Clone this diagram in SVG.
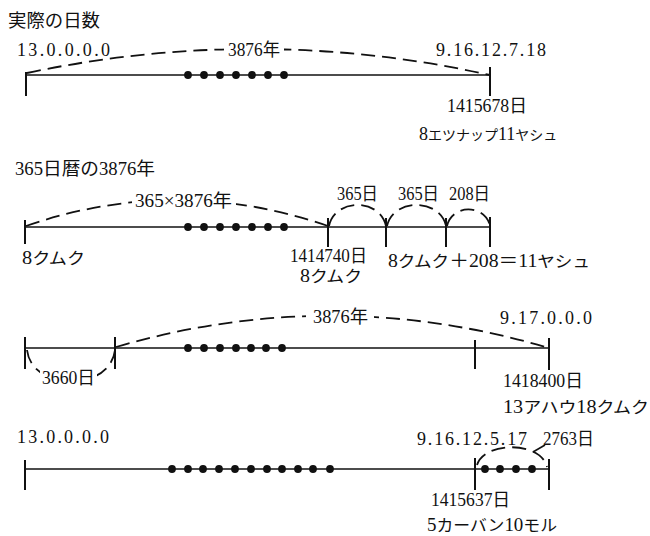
<svg xmlns="http://www.w3.org/2000/svg" width="650" height="536" viewBox="0 0 650 536">
<style>
text{font-family:"Liberation Serif","Noto Sans CJK JP",serif;font-size:18px;fill:#111}
.k{font-size:16px}
.k14{font-size:14px}
.axis{stroke:#111;stroke-width:1.6;fill:none}
.tick{stroke:#111;stroke-width:2;fill:none}
.arc{stroke:#111;stroke-width:1.8;fill:none;stroke-dasharray:14 7}
.dot{fill:#111}
.bg{fill:#fff}
</style>
<rect width="650" height="536" fill="#fff"/>
<g id="connectors">
<path class="axis" d="M26,75 H490"/>
<path class="tick" d="M26,72 V96 M490,67 V96"/>
<path class="arc" d="M27,73 Q258,24 490,75"/>
<path class="axis" d="M25,227 H490"/>
<path class="tick" d="M25,220 V244 M328,218 V247 M386,218 V247 M446,218 V247 M490,217 V247"/>
<path class="arc" d="M26,226 Q177,174 328,226"/>
<path class="arc" stroke-dasharray="10 5" d="M329,226 C335,198 380,198 386,226"/>
<path class="arc" stroke-dasharray="10 5" d="M387,226 C393,198 440,198 446,226"/>
<path class="arc" stroke-dasharray="10 5" d="M447,226 C452,204 485,204 490,226"/>
<path class="axis" d="M25,348 H549"/>
<path class="tick" d="M25,337 V369 M115,337 V369 M475,340 V369 M549,338 V370"/>
<path class="arc" stroke-dasharray="10 5" d="M27,350 C32,392 110,392 115,350"/>
<path class="arc" d="M116,347 Q332,284 549,348"/>
<path class="axis" d="M25,469 H549"/>
<path class="tick" d="M25,460 V490 M475,458 V490 M549,459 V490"/>
<path class="arc" stroke-dasharray="10 5" d="M477,465 C484,441 541,441 547,467"/>
<path class="axis" d="M533,452 L545,445"/>
</g>
<g id="dots">
<g class="dot">
<circle cx="188" cy="75" r="3.9"/><circle cx="204" cy="75" r="3.9"/><circle cx="220" cy="75" r="3.9"/><circle cx="236" cy="75" r="3.9"/><circle cx="252" cy="75" r="3.9"/><circle cx="268" cy="75" r="3.9"/><circle cx="284" cy="75" r="3.9"/>
<circle cx="188" cy="227" r="3.9"/><circle cx="204" cy="227" r="3.9"/><circle cx="220" cy="227" r="3.9"/><circle cx="236" cy="227" r="3.9"/><circle cx="252" cy="227" r="3.9"/><circle cx="268" cy="227" r="3.9"/><circle cx="284" cy="227" r="3.9"/>
<circle cx="188" cy="348" r="3.9"/><circle cx="204" cy="348" r="3.9"/><circle cx="220" cy="348" r="3.9"/><circle cx="236" cy="348" r="3.9"/><circle cx="251" cy="348" r="3.9"/><circle cx="266" cy="348" r="3.9"/><circle cx="282" cy="348" r="3.9"/>
<circle cx="172" cy="469" r="3.9"/><circle cx="188" cy="469" r="3.9"/><circle cx="203" cy="469" r="3.9"/><circle cx="219" cy="469" r="3.9"/><circle cx="235" cy="469" r="3.9"/><circle cx="251" cy="469" r="3.9"/><circle cx="267" cy="469" r="3.9"/><circle cx="282" cy="469" r="3.9"/><circle cx="298" cy="469" r="3.9"/><circle cx="313" cy="469" r="3.9"/><circle cx="330" cy="469" r="3.9"/>
<circle cx="485" cy="469" r="3.9"/><circle cx="500" cy="469" r="3.9"/><circle cx="516" cy="469" r="3.9"/><circle cx="532" cy="469" r="3.9"/>
</g>
</g>
<g id="section1">
<text x="8" y="27" textLength="92" lengthAdjust="spacingAndGlyphs" font-size="17">実際の日数</text>
<text x="17" y="56" textLength="93" lengthAdjust="spacing">13.0.0.0.0</text>
<rect class="bg" x="224" y="40" width="60" height="18"/>
<text x="228" y="56" textLength="52" lengthAdjust="spacingAndGlyphs">3876年</text>
<text x="436" y="56" textLength="110" lengthAdjust="spacing">9.16.12.7.18</text>
<text x="447" y="112" textLength="80" lengthAdjust="spacingAndGlyphs">1415678日</text>
<text x="419" y="140">8<tspan class="k14">エツナップ</tspan>11<tspan class="k14">ヤシュ</tspan></text>
</g>
<g id="section2">
<text x="15" y="175" textLength="140" lengthAdjust="spacingAndGlyphs">365日暦の3876年</text>
<rect class="bg" x="132" y="190" width="104" height="19"/>
<text x="135" y="207" textLength="97" lengthAdjust="spacingAndGlyphs">365×3876年</text>
<text x="337" y="200" textLength="41" lengthAdjust="spacingAndGlyphs">365日</text>
<text x="398" y="200" textLength="41" lengthAdjust="spacingAndGlyphs">365日</text>
<text x="449" y="200" textLength="41" lengthAdjust="spacingAndGlyphs">208日</text>
<text x="22" y="264" textLength="63" lengthAdjust="spacingAndGlyphs">8<tspan class="k">クムク</tspan></text>
<text x="290" y="262" textLength="77" lengthAdjust="spacingAndGlyphs">1414740日</text>
<text x="300" y="282" textLength="62" lengthAdjust="spacingAndGlyphs">8<tspan class="k">クムク</tspan></text>
<text x="388" y="267" textLength="202" lengthAdjust="spacingAndGlyphs">8<tspan class="k">クムク</tspan>＋208＝11<tspan class="k">ヤシュ</tspan></text>
</g>
<g id="section3">
<rect class="bg" x="40" y="370" width="57" height="17"/>
<text x="42" y="384" font-size="16" textLength="53" lengthAdjust="spacingAndGlyphs">3660日</text>
<rect class="bg" x="306" y="307" width="68" height="19"/>
<text x="313" y="323" textLength="55" lengthAdjust="spacingAndGlyphs">3876年</text>
<text x="500" y="324" textLength="92" lengthAdjust="spacing">9.17.0.0.0</text>
<text x="503" y="387" textLength="80" lengthAdjust="spacingAndGlyphs">1418400日</text>
<text x="503" y="413" textLength="146" lengthAdjust="spacingAndGlyphs">13<tspan class="k">アハウ</tspan>18<tspan class="k">クムク</tspan></text>
</g>
<g id="section4">
<text x="17" y="443" textLength="92" lengthAdjust="spacing">13.0.0.0.0</text>
<text x="417" y="445" textLength="110" lengthAdjust="spacing">9.16.12.5.17</text>
<text x="543" y="445" textLength="51" lengthAdjust="spacingAndGlyphs">2763日</text>
<text x="431" y="506" textLength="79" lengthAdjust="spacingAndGlyphs">1415637日</text>
<text x="427" y="531" textLength="130" lengthAdjust="spacingAndGlyphs">5<tspan class="k">カーバン</tspan>10<tspan class="k">モル</tspan></text>
</g>
</svg>
